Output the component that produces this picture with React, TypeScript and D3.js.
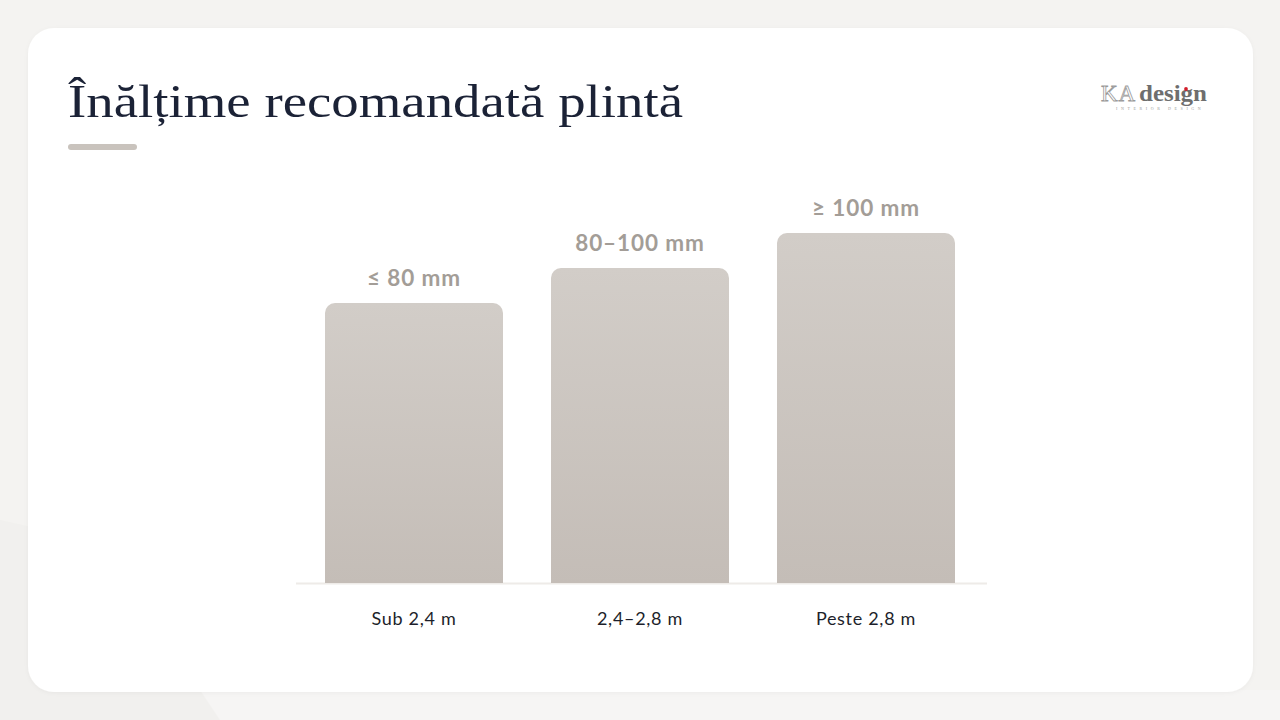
import React from "react";
import * as d3 from "d3";

const categories = ["Sub 2,4 m", "2,4–2,8 m", "Peste 2,8 m"];
const values = [80, 90, 100];
const valueLabels = ["≤ 80 mm", "80–100 mm", "≥ 100 mm"];
const title = "Înălțime recomandată plintă";

export default function App() {
  const W = 1280, H = 720;
  const x = d3.scaleBand<string>().domain(categories).range([296, 984]).paddingInner(48 / 226).paddingOuter(29 / 226);
  const y = d3.scaleLinear().domain([0, 100]).range([583, 233]);
  const r = 10;
  const barPath = (x0: number, y0: number, w: number, y1: number) => {
    const p = d3.path();
    p.moveTo(x0, y1);
    p.lineTo(x0, y0 + r);
    p.arcTo(x0, y0, x0 + r, y0, r);
    p.lineTo(x0 + w - r, y0);
    p.arcTo(x0 + w, y0, x0 + w, y0 + r, r);
    p.lineTo(x0 + w, y1);
    p.closePath();
    return p.toString();
  };
  return (
    <svg width={W} height={H} viewBox={`0 0 ${W} ${H}`} style={{ position: "fixed", left: 0, top: 0 }}>
      <defs>
        <linearGradient id="barg" x1="0" y1="0" x2="0" y2="1">
          <stop offset="0" stopColor="#d2cdc8" />
          <stop offset="1" stopColor="#c4bdb7" />
        </linearGradient>
        <filter id="sh" x="-5%" y="-5%" width="110%" height="110%">
          <feDropShadow dx="0" dy="1" stdDeviation="2" floodColor="#000" floodOpacity="0.04" />
        </filter>
      </defs>
      <rect x={0} y={0} width={W} height={H} fill="#f4f3f1" />
      <path d="M0,520 L180,560 L230,720 L0,720 Z" fill="#f1f0ee" />
      <path d="M200,690 L1280,690 L1280,720 L220,720 Z" fill="#f6f5f4" />
      <rect x={28} y={28} width={1225} height={664} rx={26} fill="#ffffff" filter="url(#sh)" />
      <text x={68} y={117} fontFamily="'Liberation Serif', 'DejaVu Serif', serif" fontSize={47} fill="#1b2236" textLength={615} lengthAdjust="spacingAndGlyphs">{title}</text>
      <rect x={68} y={144} width={69} height={6} rx={3} fill="#c9c3bd" />
      <g fontFamily="'Liberation Serif', serif">
        <text x={1101} y={101} fontSize={23} fill="none" stroke="#9a9a9a" strokeWidth={0.8} letterSpacing={1}>KA</text>
        <text x={1139} y={101} fontSize={23} fontWeight="bold" fill="#6e6e6e" textLength={68} lengthAdjust="spacingAndGlyphs">design</text>
        <circle cx={1186} cy={89} r={1.9} fill="#d21e2b" />
        <text x={1116} y={110} fontSize={4} fill="#999" letterSpacing={3.6}>INTERIOR DESIGN</text>
      </g>
      <line x1={296} x2={987} y1={583.5} y2={583.5} stroke="#eeebe8" strokeWidth={2} />
      {categories.map((c, i) => {
        const x0 = x(c)!;
        const w = x.bandwidth();
        return (
          <g key={c}>
            <path d={barPath(x0, y(values[i]), w, y(0))} fill="url(#barg)" />
            <text x={x0 + w / 2} y={y(values[i]) - 17} textAnchor="middle" fontFamily="Lato, 'Noto Sans', sans-serif" fontWeight="bold" fontSize={22.5} letterSpacing={0.9} fill="#a39d97">{valueLabels[i]}</text>
            <text x={x0 + w / 2} y={625} textAnchor="middle" fontFamily="Lato, 'Noto Sans', sans-serif" fontWeight={400} fontSize={18} letterSpacing={0.7} fill="#1d1f2b">{c}</text>
          </g>
        );
      })}
    </svg>
  );
}
